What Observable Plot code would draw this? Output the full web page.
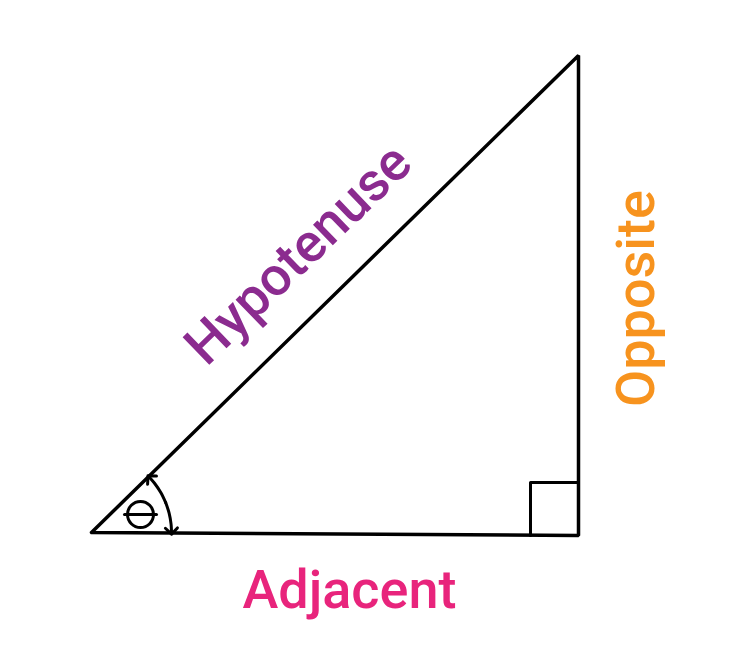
<!DOCTYPE html>
<html><head><meta charset="utf-8">
<script src="https://cdn.jsdelivr.net/npm/d3@7"></script>
<script src="https://cdn.jsdelivr.net/npm/@observablehq/plot@0.6"></script>
<style>body{margin:0;background:#fff}</style>
</head><body><div id="chart"></div>
<script>
// triangle corners in picture units
const triangle = [[91, 532], [578, 55], [578, 535], [91, 532]];
const rightAngle = [[530, 535], [530, 482], [578, 482]];
const labels = [
  {text: "Hypotenuse", x: 298, y: 254, rotate: -44, color: "#8b2b8f"},
  {text: "Opposite", x: 636, y: 298, rotate: -90, color: "#f7931e"},
  {text: "Adjacent", x: 349, y: 590, rotate: 0, color: "#e8247c"}
];
// angle arc, drawn from its middle outwards so each half ends in an arrow
const arcUp = [22, 30, 38, 43];
const arcDown = [22, 14, 6, 1];
const toPt = a => [91 + 80 * Math.cos(a * Math.PI / 180), 532 - 80 * Math.sin(a * Math.PI / 180)];

const plot = Plot.plot({
  width: 744,
  height: 659,
  margin: 0,
  x: {domain: [0, 744], range: [0, 744], axis: null},
  y: {domain: [0, 659], range: [0, 659], axis: null},
  style: {fontFamily: "Roboto"},
  marks: [
    Plot.line(triangle, {x: d => d[0], y: d => d[1], stroke: "black", strokeWidth: 3.5, strokeLinejoin: "miter"}),
    Plot.line(rightAngle, {x: d => d[0], y: d => d[1], stroke: "black", strokeWidth: 3}),
    ...[arcUp, arcDown].map(arc => Plot.line(arc.map(toPt), {x: d => d[0], y: d => d[1], stroke: "black", strokeWidth: 3, curve: "catmull-rom", markerEnd: "arrow"})),
    Plot.dot([[140, 514]], {x: d => d[0], y: d => d[1], r: 13, stroke: "black", strokeWidth: 3}),
    Plot.line([[124, 514], [156, 514]], {x: d => d[0], y: d => d[1], stroke: "black", strokeWidth: 3}),
    ...labels.map(l => Plot.text([l], {x: "x", y: "y", text: "text", rotate: l.rotate, fill: l.color, fontSize: 54, fontWeight: 500}))
  ]
});
document.querySelector("#chart").append(plot);
</script></body></html>
